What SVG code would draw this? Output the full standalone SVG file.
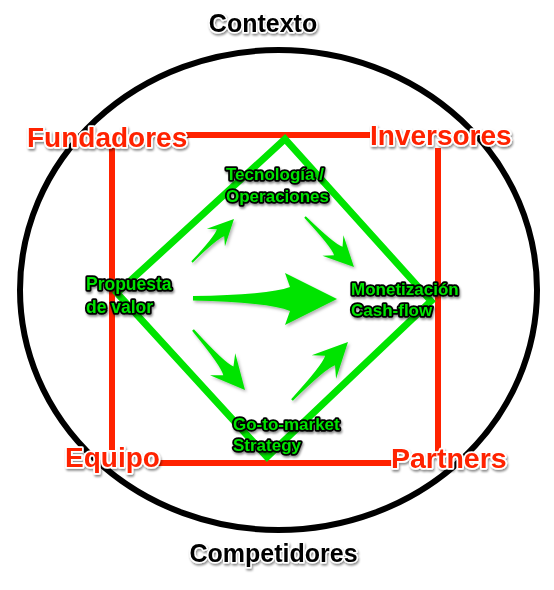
<svg xmlns="http://www.w3.org/2000/svg" width="554" height="590" viewBox="0 0 554 590">
<defs>
<filter id="sh" x="-20%" y="-40%" width="140%" height="180%">
<feDropShadow dx="1" dy="2" stdDeviation="1.2" flood-color="#000" flood-opacity="0.45"/>
</filter>
<filter id="ash" x="-20%" y="-20%" width="140%" height="140%">
<feDropShadow dx="1.5" dy="2" stdDeviation="1.5" flood-color="#000" flood-opacity="0.3"/>
</filter>
<path id="arr" d="M0,-1.5 Q58,-3 68,-8.5 L57,-21 L100,0 L57,21 L68,8.5 Q58,3 0,1.5 Z"/>
</defs>
<style>
.blk{font-family:"Liberation Sans",Arial,sans-serif;font-weight:bold;font-size:25px;fill:#000;stroke:#fff;stroke-width:3;paint-order:stroke;stroke-linejoin:round}
.red{font-family:"Liberation Sans",Arial,sans-serif;font-weight:bold;font-size:28px;fill:#ff2200;stroke:#fff;stroke-width:3.5;paint-order:stroke;stroke-linejoin:round}
.grn{font-family:"Liberation Sans",Arial,sans-serif;font-weight:bold;font-size:17px;fill:#00e400;stroke:#000;stroke-width:3.6;paint-order:stroke;stroke-linejoin:round}
.rl{stroke:#ff2200;stroke-width:6;fill:none}
.ar{fill:#00e400}
</style>
<g id="context-circle">
<ellipse cx="278.5" cy="290" rx="258.5" ry="240" fill="none" stroke="#000" stroke-width="6"/>
</g>
<g id="connectors">
<line class="rl" x1="186" y1="135" x2="370" y2="135"/>
<line class="rl" x1="112" y1="148" x2="112" y2="450"/>
<line class="rl" x1="438" y1="148" x2="438" y2="452"/>
<line class="rl" x1="158" y1="463" x2="392" y2="463"/>
<polygon points="285,139 431,301 267,457 117,293" fill="none" stroke="#00e400" stroke-width="7" stroke-linejoin="miter"/>
<g filter="url(#ash)">
<use href="#arr" class="ar" transform="translate(192,262) rotate(-45.7) scale(0.601)"/>
<use href="#arr" class="ar" transform="translate(305,217) rotate(45.6) scale(0.70)"/>
<use href="#arr" class="ar" transform="translate(193,330) rotate(49.1) scale(0.794)"/>
<use href="#arr" class="ar" transform="translate(292,400) rotate(-46) scale(0.806)"/>
<path class="ar" d="M193,296 Q268,295 290,287 L285,273 L337,299 L285,325 L290,311 Q268,302 193,300.5 Z"/>
</g>
</g>
<g id="contexto" filter="url(#sh)"><text class="blk" x="263" y="32" text-anchor="middle">Contexto</text></g>
<g id="competidores" filter="url(#sh)"><text class="blk" x="273.5" y="562" text-anchor="middle">Competidores</text></g>
<g id="fundadores" filter="url(#sh)"><text class="red" x="27" y="147">Fundadores</text></g>
<g id="inversores" filter="url(#sh)"><text class="red" x="370" y="145">Inversores</text></g>
<g id="equipo" filter="url(#sh)"><text class="red" x="65" y="467">Equipo</text></g>
<g id="partners" filter="url(#sh)"><text class="red" x="391" y="468" style="font-size:28.5px">Partners</text></g>
<g id="tecnologia" filter="url(#sh)"><text class="grn" x="226" y="180">Tecnología /</text><text class="grn" x="226" y="202">Operaciones</text></g>
<g id="propuesta" filter="url(#sh)"><text class="grn" x="86" y="290" style="font-size:17.5px">Propuesta</text><text class="grn" x="86" y="313" style="font-size:17.5px">de valor</text></g>
<g id="monetizacion" filter="url(#sh)"><text class="grn" x="351" y="295">Monetización</text><text class="grn" x="351" y="316">Cash-flow</text></g>
<g id="gotomarket" filter="url(#sh)"><text class="grn" x="233" y="430">Go-to-market</text><text class="grn" x="233" y="451">Strategy</text></g>
</svg>
